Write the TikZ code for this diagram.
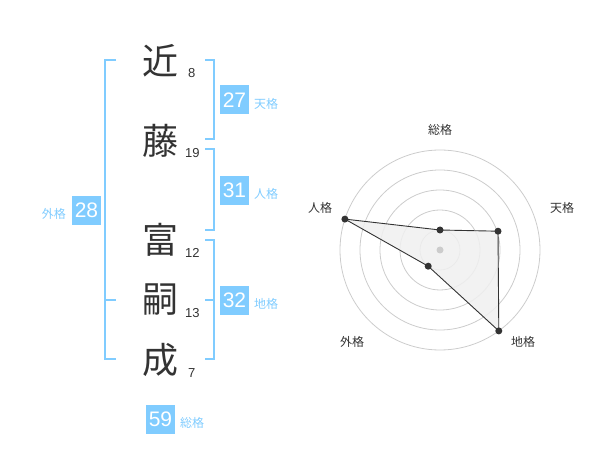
\documentclass[tikz,border=0pt]{standalone}
\usepackage{fontspec}
\setmainfont{Liberation Sans}
\newfontfamily\jp{Noto Sans CJK JP}
\definecolor{sky}{HTML}{80CCFF}
\definecolor{ink}{HTML}{333333}
\definecolor{ring}{HTML}{CCCCCC}
\definecolor{area}{HTML}{F0F0F0}
\tikzset{
  kanji/.style={font=\jp\fontsize{36}{36}\selectfont, text=ink, inner sep=0pt},
  strokes/.style={font=\fontsize{13}{13}\selectfont, text=ink, inner sep=0pt},
  numbox/.style={fill=sky, text=white, minimum width=29pt, minimum height=29pt, inner sep=0pt, font=\fontsize{21}{21}\selectfont},
  kaku/.style={font=\jp\fontsize{12}{12}\selectfont, text=sky, inner sep=0pt},
  axis/.style={font=\jp\fontsize{12}{12}\selectfont, text=ink, inner sep=0pt},
  bracket/.style={draw=sky, line width=2pt},
  ringline/.style={draw=ring, line width=0.8pt},
  dot/.style={circle, fill=ink, inner sep=0pt, minimum size=7pt},
}
\begin{document}
\begin{tikzpicture}[x=1pt,y=-1pt]
\useasboundingbox (0,0) rectangle (600,470);
% name characters
\node[kanji] (k1) at (160,61) {近};
\node[kanji] (k2) at (160,141) {藤};
\node[kanji] (k3) at (160,240) {富};
\node[kanji] (k4) at (160,300) {嗣};
\node[kanji] (k5) at (160,360) {成};
\node[strokes, anchor=west] (s1) at (188,73) {8};
\node[strokes, anchor=west] (s2) at (185,153) {19};
\node[strokes, anchor=west] (s3) at (185,253) {12};
\node[strokes, anchor=west] (s4) at (185,313) {13};
\node[strokes, anchor=west] (s5) at (188,373) {7};
% brackets
\draw[bracket] (116,60) -- (105,60) -- (105,359.5) -- (116,359.5);
\draw[bracket] (105,300) -- (116,300);
\draw[bracket] (205,60) -- (214,60) -- (214,139.5) -- (205,139.5);
\draw[bracket] (205,149.5) -- (214,149.5) -- (214,230) -- (205,230);
\draw[bracket] (205,240) -- (214,240) -- (214,359.5) -- (205,359.5);
\draw[bracket] (205,300) -- (214,300);
% fortune boxes
\node[numbox] (ten) at (234.5,100) {27};
\node[kaku, anchor=west] (tenl) at (254,104) {天格};
\node[numbox] (jin) at (234.5,190.5) {31};
\node[kaku, anchor=west] (jinl) at (254,194) {人格};
\node[numbox] (chi) at (234.5,300.5) {32};
\node[kaku, anchor=west] (chil) at (254,304) {地格};
\node[numbox] (gai) at (86.5,210.5) {28};
\node[kaku, anchor=east] (gail) at (66,214) {外格};
\node[numbox] (sou) at (160.5,419) {59};
\node[kaku, anchor=west] (soul) at (180,423) {総格};
% radar chart
\coordinate (c) at (440,250);
\foreach \r in {20,40,60,80,100} \draw[ringline] (c) circle[radius=\r];
\coordinate (pS) at (440,230);
\coordinate (pT) at (498,231.2);
\coordinate (pC) at (498.8,330.9);
\coordinate (pG) at (428.2,266.2);
\coordinate (pJ) at (344.9,219.1);
\filldraw[fill=area, fill opacity=0.85, draw=ink, line width=0.9pt] (pS) -- (pT) -- (pC) -- (pG) -- (pJ) -- cycle;
\node[circle, fill=ring, inner sep=0pt, minimum size=7pt] (cd) at (c) {};
\foreach \p in {pS,pT,pC,pG,pJ} \node[dot] at (\p) {};
\node[axis] (aS) at (440,130) {総格};
\node[axis] (aT) at (562,208) {天格};
\node[axis] (aC) at (523,342) {地格};
\node[axis] (aG) at (352,342) {外格};
\node[axis] (aJ) at (320,208) {人格};
\end{tikzpicture}
\end{document}
